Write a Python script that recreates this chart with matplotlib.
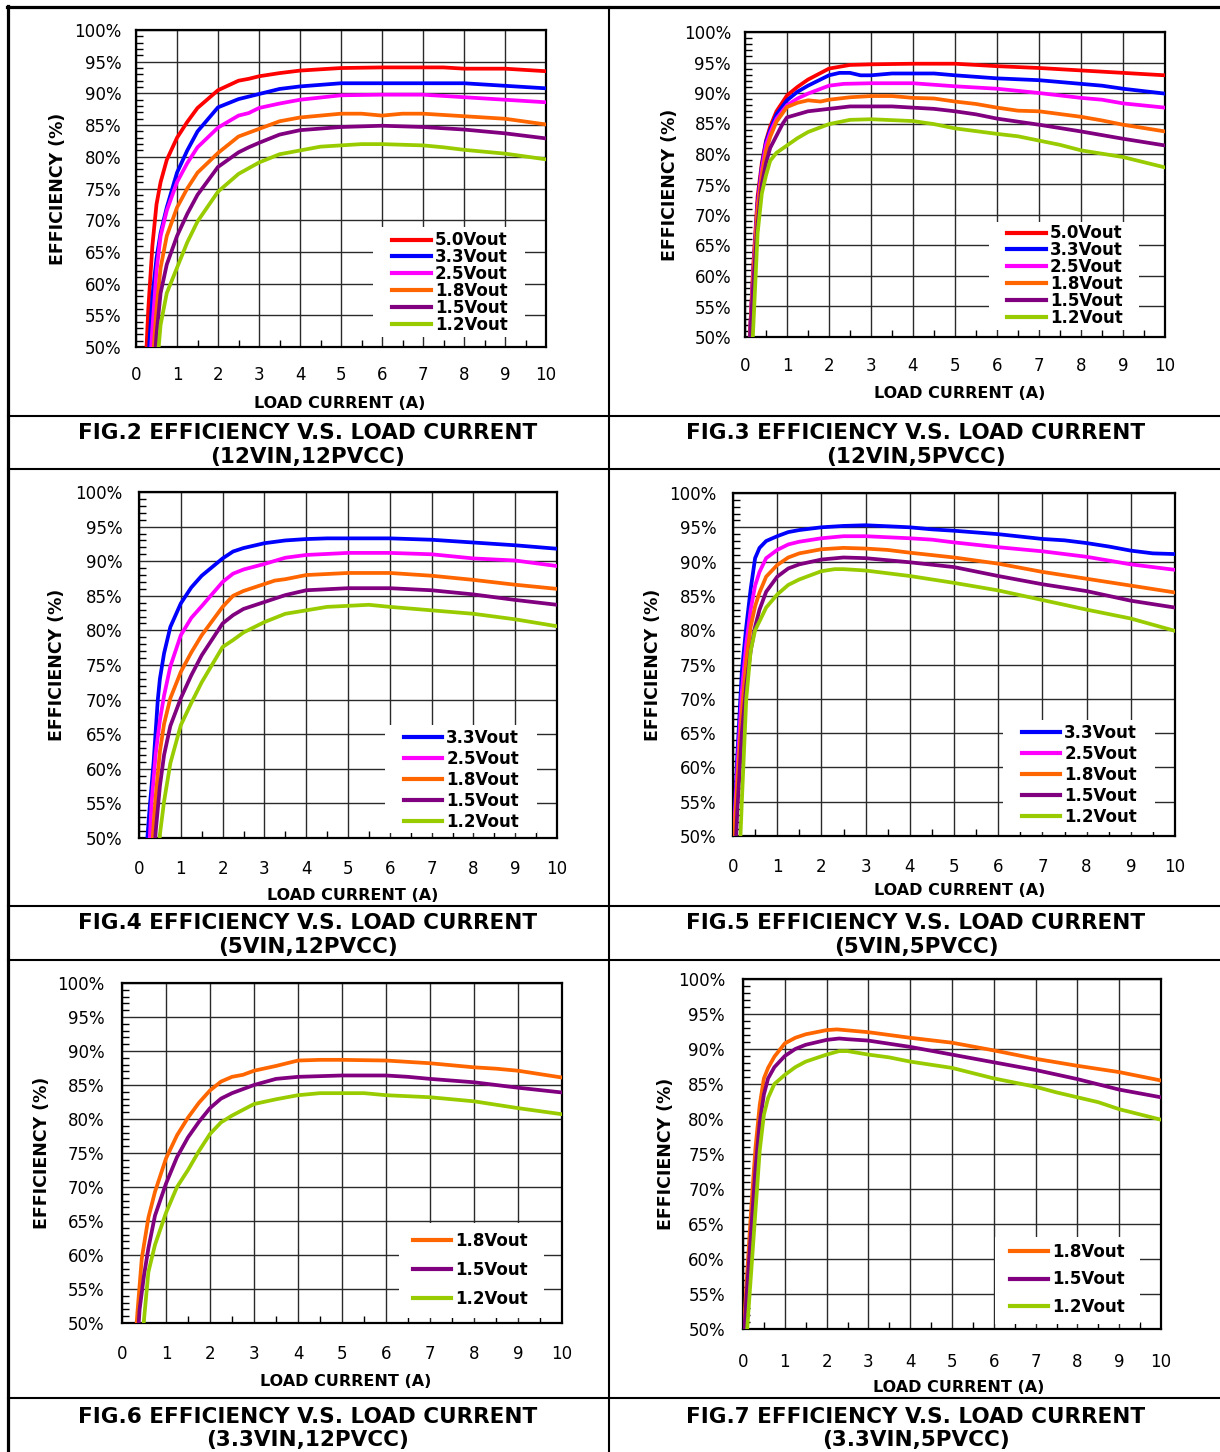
import matplotlib
matplotlib.use("Agg")
import matplotlib.pyplot as plt
from matplotlib.lines import Line2D
from matplotlib.patches import Rectangle
from matplotlib.ticker import MultipleLocator, FuncFormatter

# ---------------- DATA ----------------
# FIG.2 (12VIN,12PVCC)
F2_50_I = [0.2, 0.3, 0.4, 0.5, 0.6, 0.75, 1.0, 1.25, 1.5, 2.0, 2.5, 2.75, 3.0, 3.5, 4, 5, 6, 7, 7.5, 8, 9, 10]
F2_50_E = [42, 56, 66, 72.5, 76, 79.5, 83, 85.5, 87.7, 90.5, 92, 92.3, 92.7, 93.2, 93.6, 94, 94.1, 94.1, 94.1, 93.9, 93.9, 93.5]
F2_33_I = [0.3, 0.4, 0.5, 0.6, 0.75, 1.0, 1.25, 1.5, 2.0, 2.5, 3, 3.5, 4, 5, 6, 7, 8, 9, 10]
F2_33_E = [48, 58, 64, 68, 72, 77.5, 81, 84, 87.8, 89.1, 89.9, 90.7, 91.1, 91.6, 91.6, 91.6, 91.6, 91.2, 90.8]
F2_25_I = [0.35, 0.4, 0.5, 0.6, 0.75, 1.0, 1.25, 1.5, 2.0, 2.5, 2.75, 3, 3.5, 4, 5, 6, 7, 8, 9, 10]
F2_25_E = [48, 53, 62, 67.5, 71.5, 76, 79, 81.5, 84.6, 86.5, 86.9, 87.7, 88.4, 89, 89.7, 89.8, 89.8, 89.4, 89, 88.6]
F2_18_I = [0.4, 0.5, 0.6, 0.75, 1.0, 1.25, 1.5, 2.0, 2.5, 3, 3.5, 4, 5, 5.5, 6, 6.5, 7, 8, 9, 10]
F2_18_E = [47, 56, 62.5, 67.5, 72, 75, 77.5, 80.6, 83.2, 84.4, 85.6, 86.2, 86.8, 86.8, 86.5, 86.8, 86.8, 86.4, 86, 85.1]
F2_15_I = [0.45, 0.5, 0.6, 0.75, 1.0, 1.25, 1.5, 2.0, 2.5, 2.75, 3, 3.5, 4, 5, 6, 7, 8, 9, 10]
F2_15_E = [47, 52, 58.5, 63, 67.5, 71, 74, 78.4, 80.7, 81.5, 82.2, 83.5, 84.2, 84.7, 84.9, 84.7, 84.3, 83.7, 82.9]
F2_12_I = [0.5, 0.6, 0.75, 1.0, 1.25, 1.5, 2.0, 2.5, 3, 3.5, 4, 4.5, 5, 5.5, 6, 7, 7.5, 8, 9, 10]
F2_12_E = [46, 53.5, 58.5, 62.5, 66.5, 69.8, 74.5, 77.3, 79.1, 80.4, 81, 81.6, 81.8, 82, 82, 81.8, 81.5, 81.1, 80.5, 79.6]

# FIG.3 (12VIN,5PVCC)
F3_50_I = [0.1, 0.2, 0.3, 0.4, 0.5, 0.6, 0.75, 1.0, 1.25, 1.5, 2.0, 2.5, 3, 4, 5, 6, 7, 8, 9, 10]
F3_50_E = [48, 62, 73, 78.5, 82.2, 84.5, 87, 89.6, 91, 92.2, 94, 94.6, 94.7, 94.8, 94.8, 94.4, 94.1, 93.7, 93.3, 92.9]
F3_33_I = [0.1, 0.2, 0.3, 0.4, 0.5, 0.6, 0.75, 1.0, 1.25, 1.5, 2.0, 2.25, 2.5, 2.75, 3, 3.5, 4.5, 5, 6, 7, 8, 8.5, 9, 10]
F3_33_E = [48, 61, 72, 78, 82, 84, 86.5, 88.8, 90.2, 91.2, 92.9, 93.3, 93.3, 92.9, 92.9, 93.2, 93.2, 92.9, 92.4, 92.1, 91.5, 91.2, 90.7, 89.9]
F3_25_I = [0.1, 0.2, 0.3, 0.4, 0.5, 0.6, 0.75, 1.0, 1.25, 1.5, 2.0, 2.35, 3, 4, 5, 6, 7, 8, 8.5, 9, 10]
F3_25_E = [48, 61, 71.5, 77.5, 81.5, 83.5, 85.8, 88, 89.1, 89.9, 91.2, 91.5, 91.6, 91.6, 91.1, 90.7, 90, 89.2, 88.9, 88.3, 87.6]
F3_18_I = [0.1, 0.2, 0.3, 0.4, 0.5, 0.6, 0.75, 1.0, 1.25, 1.5, 1.8, 2.0, 2.5, 3, 3.5, 4, 4.5, 5, 5.5, 6, 6.5, 7, 8, 8.5, 9, 10]
F3_18_E = [48, 60.5, 71, 76.5, 80.5, 82.8, 85.3, 87.7, 88.4, 88.8, 88.6, 88.9, 89.3, 89.5, 89.5, 89.2, 89.1, 88.6, 88.2, 87.6, 87.1, 87, 86.1, 85.5, 84.8, 83.7]
F3_15_I = [0.1, 0.2, 0.3, 0.4, 0.5, 0.6, 0.75, 0.9, 1.0, 1.5, 2.0, 2.5, 3.5, 4, 4.5, 5, 5.5, 6, 7, 8, 9, 10]
F3_15_E = [48, 59, 68.5, 75, 78.5, 81, 83, 85, 86, 87, 87.4, 87.8, 87.8, 87.6, 87.4, 87, 86.5, 85.8, 84.8, 83.7, 82.5, 81.4]
F3_12_I = [0.15, 0.2, 0.3, 0.4, 0.5, 0.6, 0.75, 1.0, 1.25, 1.5, 2.0, 2.5, 3, 4, 4.5, 5, 6, 6.5, 7, 7.5, 8, 9, 10]
F3_12_E = [45, 52, 67, 73.5, 76.5, 78.9, 80.2, 81.4, 82.6, 83.6, 84.9, 85.6, 85.7, 85.4, 84.9, 84.2, 83.3, 82.9, 82.2, 81.5, 80.6, 79.5, 77.8]

# FIG.4 (5VIN,12PVCC)
F4_33_I = [0.2, 0.25, 0.35, 0.45, 0.5, 0.6, 0.75, 1.0, 1.25, 1.5, 2.0, 2.25, 2.5, 3, 3.5, 4, 4.5, 5, 6, 7, 8, 9, 10]
F4_33_E = [50, 54, 61, 70, 73, 76.7, 80.5, 83.9, 86.2, 87.9, 90.4, 91.4, 91.9, 92.6, 93, 93.2, 93.3, 93.3, 93.3, 93.1, 92.7, 92.3, 91.8]
F4_25_I = [0.25, 0.3, 0.4, 0.5, 0.6, 0.75, 1.0, 1.25, 1.5, 2.0, 2.25, 2.5, 3, 3.5, 4, 5, 6, 7, 8, 9, 10]
F4_25_E = [49, 55, 62.2, 67, 70.6, 74.8, 79.3, 81.8, 83.5, 87, 88.2, 88.8, 89.6, 90.5, 90.9, 91.2, 91.2, 91, 90.4, 90.1, 89.3]
F4_18_I = [0.3, 0.35, 0.4, 0.5, 0.6, 0.75, 1.0, 1.25, 1.5, 2.0, 2.25, 2.5, 3, 3.25, 3.5, 4, 5, 6, 7, 8, 9, 10]
F4_18_E = [47, 52, 56, 62.5, 66.5, 70.2, 74, 76.8, 79.3, 83.4, 85, 85.7, 86.7, 87.2, 87.4, 88, 88.3, 88.3, 87.9, 87.3, 86.6, 86]
F4_15_I = [0.35, 0.4, 0.5, 0.6, 0.75, 1.0, 1.25, 1.5, 2.0, 2.25, 2.5, 3, 3.5, 4, 5, 6, 7, 8, 9, 10]
F4_15_E = [46, 51, 57.5, 62, 66.2, 70.2, 73.5, 76.4, 81, 82.2, 83.1, 84.1, 85.1, 85.8, 86.1, 86.1, 85.8, 85.2, 84.4, 83.7]
F4_12_I = [0.45, 0.5, 0.6, 0.75, 1.0, 1.25, 1.5, 2.0, 2.25, 2.5, 3, 3.5, 4, 4.5, 5.5, 6, 7, 8, 9, 10]
F4_12_E = [46, 50.5, 55.3, 60.8, 66.3, 69.5, 72.5, 77.6, 78.6, 79.7, 81.2, 82.4, 82.9, 83.4, 83.7, 83.4, 82.9, 82.4, 81.6, 80.6]

# FIG.5 (5VIN,5PVCC)
F5_33_I = [0.0, 0.1, 0.2, 0.3, 0.4, 0.5, 0.6, 0.75, 1, 1.25, 1.5, 2, 2.5, 3, 4, 4.5, 5, 6, 7, 7.5, 8, 8.5, 9, 9.5, 10]
F5_33_E = [48, 62, 74, 80.5, 86, 90.5, 92, 93, 93.7, 94.3, 94.6, 95, 95.2, 95.3, 95, 94.7, 94.5, 94, 93.3, 93.1, 92.7, 92.2, 91.6, 91.2, 91.1]
F5_25_I = [0.0, 0.1, 0.2, 0.3, 0.4, 0.5, 0.6, 0.75, 1, 1.25, 1.5, 2, 2.5, 3, 4, 4.5, 5, 6, 7, 8, 9, 10]
F5_25_E = [48, 60, 71, 78, 83, 86.5, 88.5, 90.5, 91.7, 92.5, 92.9, 93.4, 93.7, 93.7, 93.4, 93.2, 92.8, 92.1, 91.5, 90.7, 89.6, 88.8]
F5_18_I = [0.0, 0.1, 0.2, 0.3, 0.4, 0.5, 0.6, 0.75, 1, 1.25, 1.5, 2, 2.5, 3, 3.5, 4, 5, 6, 7, 8, 9, 10]
F5_18_E = [47, 58, 68, 75.5, 80.5, 83.5, 85.5, 87.8, 89.5, 90.6, 91.2, 91.8, 92, 91.9, 91.7, 91.3, 90.6, 89.7, 88.5, 87.5, 86.5, 85.5]
F5_15_I = [0.05, 0.1, 0.2, 0.3, 0.4, 0.5, 0.6, 0.75, 1, 1.25, 1.5, 2, 2.5, 3, 3.5, 4, 5, 6, 7, 8, 9, 10]
F5_15_E = [47, 54, 65, 72, 77, 80.5, 83, 85.6, 87.8, 89, 89.6, 90.3, 90.6, 90.5, 90.2, 89.9, 89.2, 87.9, 86.7, 85.7, 84.3, 83.3]
F5_12_I = [0.15, 0.2, 0.3, 0.4, 0.5, 0.6, 0.75, 1, 1.25, 1.5, 2, 2.3, 2.5, 3, 4, 5, 6, 7, 8, 9, 10]
F5_12_E = [47, 55, 70, 77, 80, 81.3, 83.3, 85.2, 86.6, 87.4, 88.6, 88.9, 88.9, 88.7, 87.9, 86.9, 85.8, 84.4, 83, 81.7, 79.9]

# FIG.6 (3.3VIN,12PVCC)
F6_18_I = [0.3, 0.35, 0.45, 0.6, 0.75, 1, 1.25, 1.5, 1.75, 2, 2.25, 2.5, 2.75, 3, 3.5, 4, 4.5, 5, 6, 7, 8, 8.5, 9, 10]
F6_18_E = [47, 51.5, 59.5, 65.5, 69.3, 74.2, 77.6, 80.2, 82.4, 84.2, 85.5, 86.2, 86.5, 87.1, 87.8, 88.6, 88.7, 88.7, 88.6, 88.2, 87.6, 87.4, 87.1, 86.1]
F6_15_I = [0.35, 0.4, 0.5, 0.6, 0.75, 1, 1.25, 1.5, 1.75, 2, 2.25, 2.5, 3, 3.5, 4, 5, 6, 6.5, 7, 8, 9, 10]
F6_15_E = [47, 52, 57, 61, 65.8, 70.5, 74.4, 77.3, 79.6, 81.6, 83, 83.8, 85, 85.9, 86.2, 86.4, 86.4, 86.2, 85.9, 85.4, 84.6, 83.9]
F6_12_I = [0.45, 0.5, 0.6, 0.75, 1, 1.25, 1.5, 1.75, 2, 2.25, 2.5, 3, 3.5, 4, 4.5, 5.5, 6, 7, 8, 9, 10]
F6_12_E = [47, 50.5, 57.5, 61.5, 66.2, 70, 72.5, 75.3, 77.8, 79.5, 80.5, 82.2, 82.9, 83.5, 83.8, 83.8, 83.5, 83.2, 82.6, 81.6, 80.7]

# FIG.7 (3.3VIN,5PVCC)
F7_18_I = [0.0, 0.1, 0.2, 0.3, 0.4, 0.5, 0.6, 0.75, 1, 1.25, 1.5, 2, 2.25, 3, 4, 5, 6, 7, 8, 9, 10]
F7_18_E = [48, 58, 67.5, 76, 82, 85.8, 87.3, 88.9, 90.8, 91.6, 92.1, 92.7, 92.8, 92.4, 91.6, 90.9, 89.8, 88.6, 87.6, 86.7, 85.5]
F7_15_I = [0.0, 0.1, 0.2, 0.3, 0.4, 0.5, 0.6, 0.75, 1, 1.25, 1.5, 2, 2.3, 2.5, 3, 4, 5, 6, 7, 8, 9, 10]
F7_15_E = [47, 56, 64.5, 73, 79.5, 83.5, 85.8, 87.4, 89, 90, 90.6, 91.3, 91.5, 91.4, 91.2, 90.3, 89.2, 88.1, 87, 85.7, 84.2, 83.1]
F7_12_I = [0.05, 0.1, 0.2, 0.3, 0.4, 0.5, 0.6, 0.75, 1, 1.25, 1.5, 2, 2.3, 2.5, 3, 3.5, 4, 5, 6, 7, 7.5, 8, 8.5, 9, 10]
F7_12_E = [45, 50, 58.5, 67, 75.5, 80.6, 83, 85, 86.3, 87.4, 88.2, 89.2, 89.7, 89.7, 89.2, 88.8, 88.2, 87.3, 85.8, 84.6, 83.8, 83.1, 82.4, 81.4, 79.9]

X_TICKS = list(range(0, 11))
Y_TICKS = list(range(50, 101, 5))

CAPTION_LINE1 = ["FIG.2 EFFICIENCY V.S. LOAD CURRENT", "FIG.3 EFFICIENCY V.S. LOAD CURRENT",
                 "FIG.4 EFFICIENCY V.S. LOAD CURRENT", "FIG.5 EFFICIENCY V.S. LOAD CURRENT",
                 "FIG.6 EFFICIENCY V.S. LOAD CURRENT", "FIG.7 EFFICIENCY V.S. LOAD CURRENT"]
CAPTION_LINE2 = ["(12VIN,12PVCC)", "(12VIN,5PVCC)", "(5VIN,12PVCC)", "(5VIN,5PVCC)",
                 "(3.3VIN,12PVCC)", "(3.3VIN,5PVCC)"]

COLORS = {"5.0Vout": "#FF0000", "3.3Vout": "#0000FF", "2.5Vout": "#FF00FF",
          "1.8Vout": "#FF6600", "1.5Vout": "#800080", "1.2Vout": "#99CC00"}

PANEL_SERIES = [
    [("5.0Vout", F2_50_I, F2_50_E), ("3.3Vout", F2_33_I, F2_33_E), ("2.5Vout", F2_25_I, F2_25_E),
     ("1.8Vout", F2_18_I, F2_18_E), ("1.5Vout", F2_15_I, F2_15_E), ("1.2Vout", F2_12_I, F2_12_E)],
    [("5.0Vout", F3_50_I, F3_50_E), ("3.3Vout", F3_33_I, F3_33_E), ("2.5Vout", F3_25_I, F3_25_E),
     ("1.8Vout", F3_18_I, F3_18_E), ("1.5Vout", F3_15_I, F3_15_E), ("1.2Vout", F3_12_I, F3_12_E)],
    [("3.3Vout", F4_33_I, F4_33_E), ("2.5Vout", F4_25_I, F4_25_E), ("1.8Vout", F4_18_I, F4_18_E),
     ("1.5Vout", F4_15_I, F4_15_E), ("1.2Vout", F4_12_I, F4_12_E)],
    [("3.3Vout", F5_33_I, F5_33_E), ("2.5Vout", F5_25_I, F5_25_E), ("1.8Vout", F5_18_I, F5_18_E),
     ("1.5Vout", F5_15_I, F5_15_E), ("1.2Vout", F5_12_I, F5_12_E)],
    [("1.8Vout", F6_18_I, F6_18_E), ("1.5Vout", F6_15_I, F6_15_E), ("1.2Vout", F6_12_I, F6_12_E)],
    [("1.8Vout", F7_18_I, F7_18_E), ("1.5Vout", F7_15_I, F7_15_E), ("1.2Vout", F7_12_I, F7_12_E)],
]

# ---------------- LAYOUT (pixels) ----------------
W, H = 1220, 1452
AX_BOX = [(136, 30, 546, 347), (745, 32, 1165, 337), (139, 492, 557, 838),
          (733, 493, 1175, 836), (122, 983, 562, 1323), (743, 979, 1161, 1329)]
LEG_BOX = [(373, 227, 525, 337), (989, 222, 1139, 330), (385, 725, 537, 833),
           (1003, 720, 1155, 832), (399, 1223, 544, 1318), (995, 1237, 1140, 1324)]
LEG_CENTER = [(450, 282.5), (1065, 275.5), (461.5, 780), (1079.5, 775), (470.5, 1270), (1067.5, 1279.5)]
LEG_ROW = [17, 17, 21.2, 21, 29, 27.5]
XLABEL_Y = [404, 393, 896, 890, 1381, 1388]
XLABEL_X = [340, 960, 353, 960, 346, 959]
YLABEL_X = [58, 670, 57, 653, 42, 666]
XTICK_PAD = [14.0, 14.5, 16.0, 15.5, 15.5, 17.0]
YTICK_PAD = [10.5, 10.0, 12.0, 12.0, 12.5, 13.0]
CAP_X = [308, 916, 308, 916, 308, 916]
CAP_Y1 = [439, 439, 929, 929, 1423, 1423]
CAP_Y2 = [463, 463, 953, 953, 1446, 1446]

FS = 12.0
fig = plt.figure(figsize=(W / 100, H / 100), dpi=100)
fig.patch.set_facecolor("white")

def fx(x):
    return x / W

def fy(y):
    return 1 - y / H

for k in range(6):
    l, t, r, b = AX_BOX[k]
    ax = fig.add_axes([fx(l), fy(b), (r - l) / W, (b - t) / H])
    ax.set_xlim(0, 10)
    ax.set_ylim(50, 100)
    ax.set_axisbelow(True)
    ax.xaxis.set_major_locator(MultipleLocator(1))
    ax.xaxis.set_minor_locator(MultipleLocator(0.5))
    ax.yaxis.set_major_locator(MultipleLocator(5))
    ax.yaxis.set_minor_locator(MultipleLocator(1))
    ax.yaxis.set_major_formatter(FuncFormatter(lambda v, p: f"{v:.0f}%"))
    ax.set_xticks(X_TICKS)
    ax.set_yticks(Y_TICKS)
    ax.grid(True, which="major", color="#2a2a2a", lw=1.0)
    ax.tick_params(which="major", length=0, labelsize=FS, colors="black")
    ax.tick_params(axis="x", which="major", pad=XTICK_PAD[k])
    ax.tick_params(axis="y", which="major", pad=YTICK_PAD[k])
    ax.tick_params(which="minor", direction="in", length=5, width=1.0, color="black")
    for s in ax.spines.values():
        s.set_linewidth(1.6)
        s.set_color("black")

    ll, lt, lr, lb = LEG_BOX[k]
    ax.add_patch(Rectangle(((ll - l) / (r - l), (b - lb) / (b - t)), (lr - ll) / (r - l), (lb - lt) / (b - t),
                           transform=ax.transAxes, facecolor="white", edgecolor="none", zorder=1))

    handles = []
    labels = []
    for name, xs, ys in PANEL_SERIES[k]:
        ax.plot(xs, ys, color=COLORS[name], lw=2.7, solid_joinstyle="round",
                solid_capstyle="round", zorder=3)
        handles.append(Line2D([], [], color=COLORS[name], lw=3.0))
        labels.append(name)

    cx, cy = LEG_CENTER[k]
    fs_px = FS * 100 / 72
    ls = (LEG_ROW[k] - 1.088 * fs_px) / fs_px
    ax.legend(handles, labels, loc="center",
              bbox_to_anchor=((cx - l) / (r - l), (b - cy) / (b - t)),
              frameon=False, prop={"weight": "bold", "size": FS},
              handlelength=2.3, handletextpad=0.25, labelspacing=ls, borderpad=0)

    ax.set_xlabel("LOAD CURRENT (A)", fontsize=11.5, fontweight="bold")
    ax.xaxis.set_label_coords((XLABEL_X[k] - l) / (r - l), (b - XLABEL_Y[k]) / (b - t))
    ax.xaxis.label.set_va("center")
    ax.set_ylabel("EFFICIENCY (%)", fontsize=12.5, fontweight="bold")
    ax.yaxis.set_label_coords((YLABEL_X[k] - l) / (r - l), 0.5)
    ax.yaxis.label.set_va("center")

    fig.text(fx(CAP_X[k]), fy(CAP_Y1[k]), CAPTION_LINE1[k], ha="center", va="baseline",
             fontsize=15.5, fontweight="bold")
    fig.text(fx(CAP_X[k]), fy(CAP_Y2[k]), CAPTION_LINE2[k], ha="center", va="baseline",
             fontsize=15.5, fontweight="bold")

def hline(y, x0, x1, lw):
    fig.add_artist(Line2D([fx(x0), fx(x1)], [fy(y), fy(y)], color="black", lw=lw,
                          transform=fig.transFigure))

def vline(x, y0, y1, lw):
    fig.add_artist(Line2D([fx(x), fx(x)], [fy(y0), fy(y1)], color="black", lw=lw,
                          transform=fig.transFigure))

hline(7, 6.5, 1220, 2.3)
vline(8, 6, 1452, 2.3)
vline(609, 7, 1452, 1.5)
for yy in [416, 469, 906, 960, 1398]:
    hline(yy, 8, 1220, 1.5)

fig.savefig("out.png", dpi=100, facecolor="white")
